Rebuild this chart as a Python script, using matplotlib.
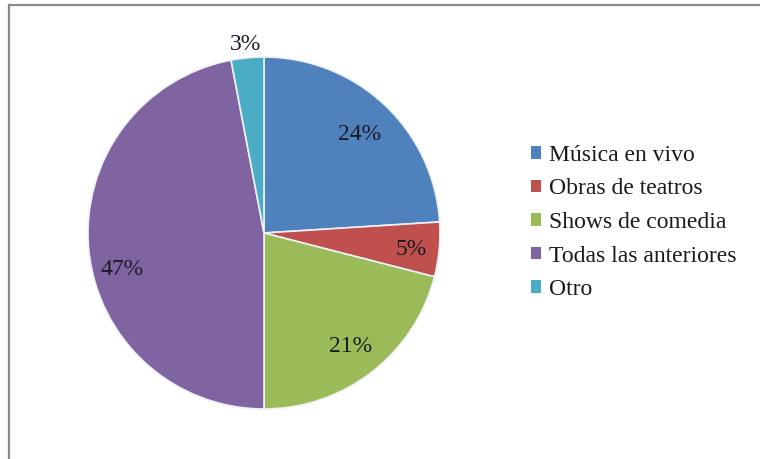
import matplotlib
matplotlib.use("Agg")
import matplotlib.pyplot as plt
import numpy as np
from matplotlib.lines import Line2D
from matplotlib.patches import Patch

categories = ["Música en vivo", "Obras de teatros", "Shows de comedia",
              "Todas las anteriores", "Otro"]
values = [24, 5, 21, 47, 3]
colors = ["#4F81BD", "#C0504D", "#9BBB59", "#8064A2", "#4BACC6"]

# radial position of each percentage label (fraction of radius) and angular nudge
label_radius = [0.79, 0.84, 0.80, 0.83, 1.09]
label_nudge = [0, 0, 0, 8, 0]

W, H = 760, 459
fig = plt.figure(figsize=(W / 100, H / 100), dpi=100)
fig.patch.set_facecolor("white")

cx, cy, R = 264, 459 - 233, 176
ax = fig.add_axes([(cx - R) / W, (cy - R) / H, 2 * R / W, 2 * R / H])
ax.axis("off")

wedges, _ = ax.pie(values, colors=colors, startangle=90, counterclock=False,
                   radius=1.0, wedgeprops=dict(edgecolor="#EEF2F8", linewidth=1.2))
ax.set_xlim(-1, 1)
ax.set_ylim(-1, 1)
ax.set_aspect("equal")

total = sum(values)
for w, v, rf, nd in zip(wedges, values, label_radius, label_nudge):
    mid = np.deg2rad((w.theta1 + w.theta2) / 2 + nd)
    ax.text(rf * np.cos(mid), rf * np.sin(mid), f"{round(100 * v / total)}%",
            ha="center", va="center_baseline", fontsize=17, family="Liberation Serif",
            color="#1A1A24")

handles = [Patch(facecolor=c, edgecolor="none") for c in colors]
fig.legend(handles, categories, loc="center left", bbox_to_anchor=(514 / W, 1 - 222.5 / H),
           frameon=False, prop={"family": "Liberation Serif", "size": 17},
           handlelength=0.45, handleheight=0.45, handletextpad=0.35,
           labelspacing=0.53, labelcolor="#1A1A1A", borderpad=0.2)

# outer frame (top and left edges visible)
fig.add_artist(Line2D([9 / W, 9 / W], [0, 1 - 4.5 / H], transform=fig.transFigure,
                      color="#8A8A8A", linewidth=1.6))
fig.add_artist(Line2D([9 / W, 1], [1 - 4.5 / H, 1 - 4.5 / H], transform=fig.transFigure,
                      color="#8A8A8A", linewidth=1.6))

fig.savefig("out.png", dpi=100)
